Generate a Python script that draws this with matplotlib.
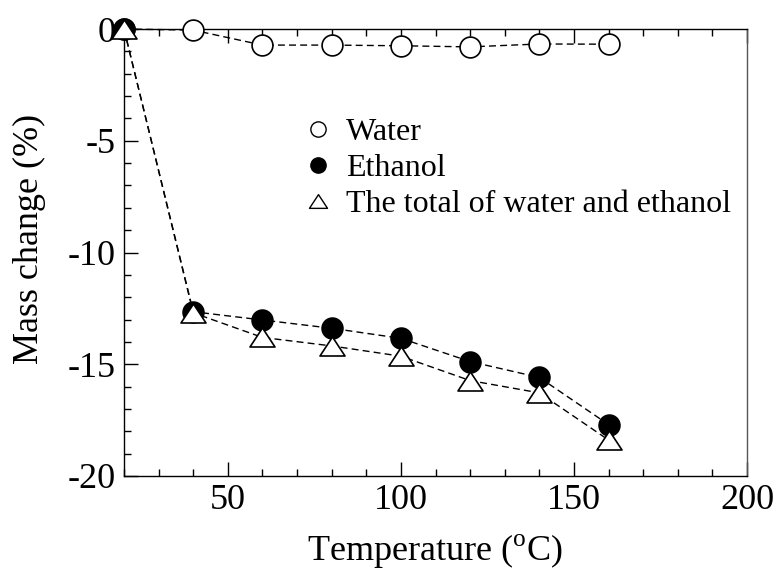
import matplotlib
matplotlib.use('Agg')
import matplotlib.pyplot as plt
from matplotlib.path import Path
from matplotlib.ticker import MultipleLocator

plt.rcParams['font.family'] = ['Liberation Serif', 'DejaVu Serif']
plt.rcParams['mathtext.fontset'] = 'custom'
plt.rcParams['mathtext.rm'] = 'Liberation Serif'
plt.rcParams['axes.unicode_minus'] = False

temperature = [20, 40, 60, 80, 100, 120, 140, 160]
water = [0, -0.05, -0.72, -0.72, -0.75, -0.80, -0.67, -0.68]
ethanol = [0, -12.65, -13.02, -13.39, -13.84, -14.88, -15.59, -17.70]
total = [0, -12.70, -13.80, -14.18, -14.64, -15.73, -16.28, -18.39]

# flattened triangle, wider than tall
tri = Path([(0, 0.76), (-1, -0.76), (1, -0.76), (0, 0.76)],
           [Path.MOVETO, Path.LINETO, Path.LINETO, Path.CLOSEPOLY])

fig = plt.figure(figsize=(7.76, 5.79), dpi=100)
ax = fig.add_axes([124 / 776, 1 - 476 / 579, (747 - 124) / 776, (476 - 29) / 579])

dash = (0, (5, 3))
common = dict(color='black', linestyle=dash, linewidth=1.0, markeredgecolor='black',
              markeredgewidth=1.2, clip_on=False, zorder=3)
ax.plot(temperature, water, marker='o', markersize=15, markerfacecolor='white', **common)
ax.plot(temperature, ethanol, marker='o', markersize=15, markerfacecolor='black', **common)
ax.plot(temperature, total, marker=tri, markersize=18, markerfacecolor='white', **common)

# legend built from marker-only handles
h1, = ax.plot([], [], 'o', ms=11, mfc='white', mec='black', mew=1.0)
h2, = ax.plot([], [], 'o', ms=11, mfc='black', mec='black', mew=1.0)
h3, = ax.plot([], [], marker=tri, ls='none', ms=13, mfc='white', mec='black', mew=1.0)
ax.legend([h1, h2, h3], ['Water', 'Ethanol', 'The total of water and ethanol'],
          loc='upper left', bbox_to_anchor=(0.266, 0.837), frameon=False,
          fontsize=23, handlelength=0.8, handletextpad=0.45, labelspacing=0.2,
          borderpad=0)

ax.set_xlim(20, 200)
ax.set_ylim(-20, 0)
ax.xaxis.set_major_locator(MultipleLocator(50))
ax.xaxis.set_minor_locator(MultipleLocator(10))
ax.yaxis.set_major_locator(MultipleLocator(5))
ax.yaxis.set_minor_locator(MultipleLocator(1))
ax.set_xticks([50, 100, 150, 200])

ax.tick_params(which='both', direction='in', top=True, right=False, labelsize=26, width=1.0)
ax.tick_params(which='major', length=10, pad=6)
ax.tick_params(which='minor', length=5)
for s in ax.spines.values():
    s.set_linewidth(1.0)
ax.spines['right'].set_color('#555555')

ax.set_xlabel(r'Temperature ($^{\mathrm{o}}$C)', fontsize=26)
ax.set_ylabel('Mass change (%)', fontsize=26)
ax.xaxis.set_label_coords(0.5, -0.126)
ax.yaxis.set_label_coords(-0.125, 0.53)

fig.savefig('out.png', dpi=100)
